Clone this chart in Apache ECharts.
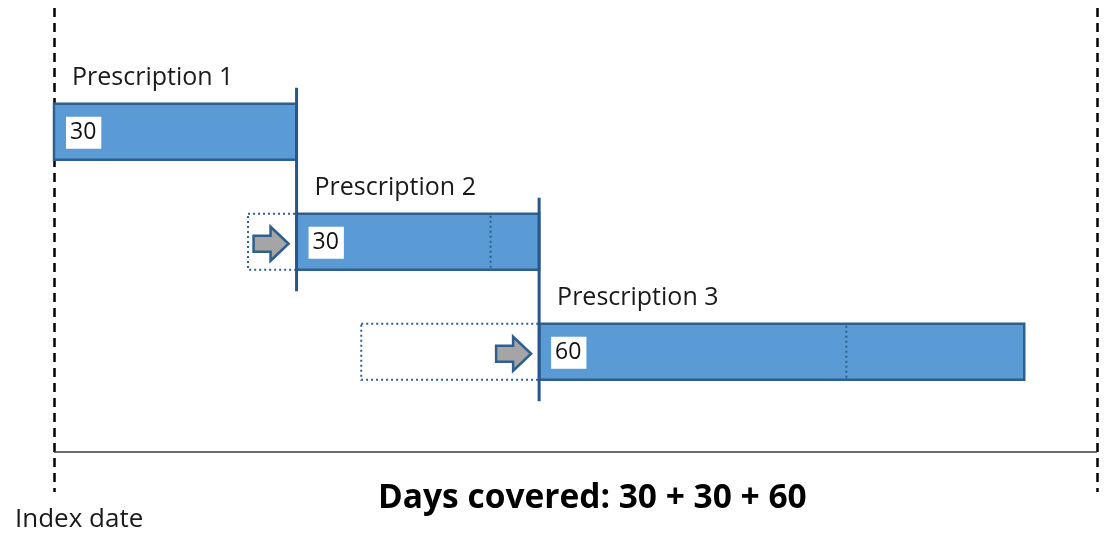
<!DOCTYPE html>
<html>
<head>
<meta charset="utf-8">
<script src="https://cdn.jsdelivr.net/npm/echarts@6/dist/echarts.min.js"></script>
<style>
html,body{margin:0;padding:0;background:#fff;}
#chart{width:1114px;height:533px;}
</style>
</head>
<body>
<div id="chart"></div>
<script>
// ---- data ----
const prescriptions = ['Prescription 1', 'Prescription 2', 'Prescription 3'];
const fillDays = [0, 24, 38];          // day each prescription was filled
const supplyDays = [30, 30, 60];        // days supplied
const followUpEnd = 129;                // end of observation window (days)
const indexLabel = 'Index date';
const totalPrefix = 'Days covered: ';

// coverage start shifts to end of previous supply
const coverStart = [];
const coverEnd = [];
fillDays.forEach((f, i) => {
  const s = i === 0 ? f : Math.max(f, coverEnd[i - 1]);
  coverStart.push(s);
  coverEnd.push(s + supplyDays[i]);
});
const barData = prescriptions.map((name, i) => [coverStart[i], coverEnd[i], i + 1, fillDays[i], supplyDays[i]]);

const FONT = "'Open Sans', 'Noto Sans', sans-serif";
const BORDER = '#2E5F8E';
const FILL = '#5B9BD5';
const DARK = '#27568A';

function renderItem(params, api) {
  const s = api.value(0), e = api.value(1), row = api.value(2), f = api.value(3), sup = api.value(4);
  const idx = params.dataIndex;
  const p0 = api.coord([s, row]);
  const p1 = api.coord([e, row]);
  const unit = api.size([0, 1])[1];
  const h = unit * 0.51;
  const top = p0[1] - h / 2;
  const children = [];

  if (f < s) {
    const pf = api.coord([f, row]);
    children.push({
      type: 'rect',
      shape: { x: pf[0], y: top, width: p0[0] - pf[0], height: h },
      style: { fill: null, stroke: BORDER, lineWidth: 2, lineDash: [2, 3] },
      z2: 1
    });
    const tipX = p0[0] - 8, cy = p0[1] + 2;
    const x0 = tipX - 35;
    children.push({
      type: 'polygon',
      shape: { points: [[tipX, cy], [x0 + 17, cy - 17], [x0 + 17, cy - 8], [x0, cy - 8], [x0, cy + 8], [x0 + 17, cy + 8], [x0 + 17, cy + 17]] },
      style: { fill: '#A5A5A5', stroke: BORDER, lineWidth: 2.5 },
      z2: 3
    });
  }
  children.push({
    type: 'rect',
    shape: { x: p0[0], y: top, width: p1[0] - p0[0], height: h },
    style: { fill: FILL, stroke: BORDER, lineWidth: 2.5 },
    z2: 2
  });
  if (f < s) {
    const pe = api.coord([f + sup, row]);
    children.push({
      type: 'line',
      shape: { x1: pe[0], y1: top + 2, x2: pe[0], y2: top + h - 2 },
      style: { stroke: BORDER, lineWidth: 2, lineDash: [2, 3] },
      z2: 4
    });
  }
  children.push({
    type: 'text',
    x: p0[0] + 12,
    y: p0[1] + 1,
    style: {
      text: String(sup),
      fontSize: 23,
      fontFamily: FONT,
      fill: '#111',
      backgroundColor: '#fff',
      padding: [5, 5, 4, 4],
      verticalAlign: 'middle',
      align: 'left'
    },
    z2: 5
  });
  children.push({
    type: 'text',
    x: p0[0] + 18,
    y: p0[1] - unit * 0.49,
    style: {
      text: prescriptions[idx],
      fontSize: 25,
      fontFamily: FONT,
      fill: '#1a1a1a',
      verticalAlign: 'middle',
      align: 'left'
    },
    z2: 5
  });
  if (idx > 0) {
    const a = api.coord([s, row - 1 - 0.4]);
    const b = api.coord([s, row + 0.45]);
    children.push({
      type: 'line',
      shape: { x1: a[0], y1: a[1], x2: b[0], y2: b[1] },
      style: { stroke: DARK, lineWidth: 3 },
      z2: 6
    });
  }
  return { type: 'group', children };
}

const chart = echarts.init(document.getElementById('chart'));
chart.setOption({
  animation: false,
  backgroundColor: '#fff',
  title: [
    {
      text: totalPrefix + supplyDays.join(' + '),
      left: 373, top: 476,
      textStyle: { fontFamily: FONT, fontWeight: 'bold', fontSize: 33.5, color: '#000' }
    },
    {
      text: indexLabel,
      left: 10, top: 502,
      textStyle: { fontFamily: FONT, fontWeight: 'normal', fontSize: 26, color: '#1a1a1a' }
    }
  ],
  grid: { left: 54, right: 17, top: 8, bottom: 41 },
  xAxis: {
    type: 'value', min: 0, max: followUpEnd, interval: followUpEnd,
    axisLine: { show: false }, axisTick: { show: false }, axisLabel: { show: false },
    splitLine: { show: true, lineStyle: { color: '#000', width: 2.5, type: [9, 6] } }
  },
  yAxis: {
    type: 'value', inverse: true, min: -0.125, max: 4.275,
    axisLine: { show: false }, axisTick: { show: false }, axisLabel: { show: false },
    splitLine: { show: false }
  },
  series: [
    {
      type: 'custom',
      name: 'coverage',
      renderItem: renderItem,
      data: barData,
      clip: false,
      encode: { x: [0, 1], y: 2 },
      markLine: {
        silent: true,
        symbol: 'none',
        label: { show: false },
        lineStyle: { color: '#3a3a3a', width: 1.5, type: 'solid' },
        data: [{ yAxis: 3.91 }]
      }
    }
  ]
});
</script>
</body>
</html>
